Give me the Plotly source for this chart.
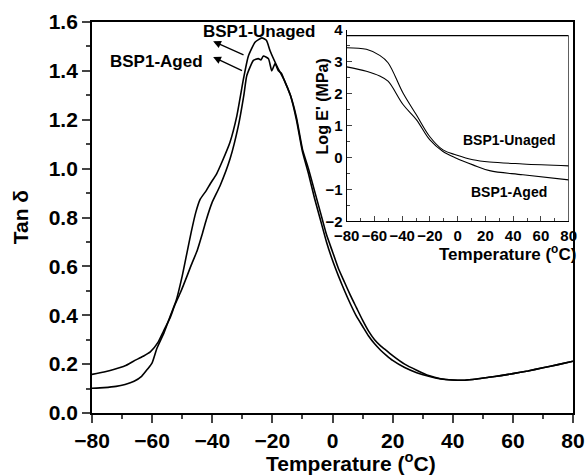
import plotly.graph_objects as go

# ---- main tan(delta) data ----
unaged_T = [-80, -76, -72, -69, -66, -63.5, -61.5, -60, -58.4, -56, -54, -52, -50, -48.5, -47, -45.5, -44,
            -42, -40.7, -38.5, -36.8, -34.1, -31.8, -29.6, -28, -25.7, -23.5, -22, -20.7, -18.5, -16, -14,
            -12, -10, -8, -6, -4, -2, 0, 2, 4, 6, 8, 10, 12, 14, 16, 18, 20, 24, 28, 32, 36, 40, 44, 48,
            52, 56, 60, 65, 70, 75, 80]
unaged_V = [0.101, 0.104, 0.109, 0.117, 0.13, 0.15, 0.18, 0.205, 0.265, 0.33, 0.396, 0.46, 0.56, 0.65, 0.74,
            0.82, 0.875, 0.91, 0.937, 0.98, 1.026, 1.108, 1.217, 1.368, 1.46, 1.518, 1.535, 1.525, 1.48, 1.42,
            1.36, 1.30, 1.21, 1.08, 1.00, 0.91, 0.82, 0.73, 0.66, 0.59, 0.535, 0.48, 0.43, 0.38, 0.335,
            0.30, 0.275, 0.255, 0.235, 0.200, 0.175, 0.153, 0.140, 0.135, 0.134, 0.139, 0.146, 0.153,
            0.161, 0.172, 0.185, 0.198, 0.212]

aged_T = [-80, -76, -72.8, -69, -66.2, -63, -60.6, -58, -56.2, -54, -52.5, -50.5, -48.4, -47, -45, -43.5,
          -42, -40.1, -37.4, -34.1, -31.3, -29.5, -28.5, -26.3, -24.7, -23.8, -23, -21.3, -20.2, -19.1,
          -18, -17, -16.3, -14, -12, -10, -8, -6, -4, -2, 0, 2, 4, 6, 8, 10, 12, 14, 16, 18, 20, 24, 28,
          32, 36, 40, 44, 48, 52, 56, 60, 65, 70, 75, 80]
aged_V = [0.158, 0.168, 0.178, 0.193, 0.212, 0.232, 0.25, 0.29, 0.335, 0.39, 0.44, 0.495, 0.56, 0.605,
          0.665, 0.725, 0.79, 0.86, 0.93, 1.039, 1.176, 1.30, 1.381, 1.443, 1.45, 1.445, 1.461, 1.45, 1.40,
          1.43, 1.40, 1.39, 1.37, 1.30, 1.20, 1.07, 0.98, 0.88, 0.79, 0.70, 0.625, 0.56, 0.50, 0.445,
          0.395, 0.355, 0.315, 0.283, 0.257, 0.235, 0.215, 0.186, 0.165, 0.150, 0.139, 0.135, 0.134,
          0.139, 0.146, 0.153, 0.161, 0.172, 0.185, 0.198, 0.212]

# ---- inset log E' data ----
inset_T = [-80, -65.8, -56.2, -50.2, -39.4, -29.8, -20.2, -10.6, -1, 11, 23, 47, 80]
inset_unaged = [3.44, 3.39, 3.2, 2.97, 2.02, 1.34, 0.66, 0.24, 0.08, -0.07, -0.14, -0.2, -0.26]
inset_aged = [2.84, 2.7, 2.55, 2.39, 1.66, 1.19, 0.56, 0.19, -0.02, -0.23, -0.41, -0.54, -0.70]

main_xticks = [-80, -60, -40, -20, 0, 20, 40, 60, 80]
main_yticks = [0.0, 0.2, 0.4, 0.6, 0.8, 1.0, 1.2, 1.4, 1.6]
inset_yticks = [-2, -1, 0, 1, 2, 3, 4]

FONT = "Liberation Sans"
fig = go.Figure()

fig.add_trace(go.Scatter(x=unaged_T, y=unaged_V, mode="lines",
                         line=dict(color="black", width=1.6, shape="spline", smoothing=0.5),
                         xaxis="x", yaxis="y", showlegend=False))
fig.add_trace(go.Scatter(x=aged_T, y=aged_V, mode="lines",
                         line=dict(color="black", width=1.6, shape="spline", smoothing=0.5),
                         xaxis="x", yaxis="y", showlegend=False))
fig.add_trace(go.Scatter(x=inset_T, y=inset_unaged, mode="lines", line=dict(color="black", width=1.1, shape="spline"),
                         xaxis="x2", yaxis="y2", showlegend=False))
fig.add_trace(go.Scatter(x=inset_T, y=inset_aged, mode="lines", line=dict(color="black", width=1.1, shape="spline"),
                         xaxis="x2", yaxis="y2", showlegend=False))

tickfont_main = dict(family=FONT, size=21, color="black", weight="bold")
tickfont_inset = dict(family=FONT, size=15, color="black", weight="bold")

fig.update_layout(
    width=585, height=475,
    margin=dict(l=92, r=12, t=22, b=62, autoexpand=False),
    paper_bgcolor="white", plot_bgcolor="white",
    xaxis=dict(range=[-80, 80], tickvals=main_xticks, ticks="outside", ticklen=8, tickwidth=1.5,
               showline=True, linewidth=1.8, linecolor="black", mirror=True, showgrid=False, zeroline=False,
               tickfont=tickfont_main, automargin=False, tickangle=0,
               minor=dict(ticks="outside", dtick=10, ticklen=4, tickwidth=1.5, showgrid=False)),
    yaxis=dict(range=[0, 1.6], tickvals=main_yticks, tickformat=".1f", ticks="outside", ticklen=8, tickwidth=1.5,
               showline=True, linewidth=1.8, linecolor="black", mirror=True, showgrid=False, zeroline=False,
               tickfont=tickfont_main, automargin=False,
               minor=dict(ticks="outside", dtick=0.1, ticklen=4, tickwidth=1.5, showgrid=False)),
    xaxis2=dict(domain=[0.5295, 0.991], anchor="y2", range=[-80, 80], tickvals=main_xticks,
                ticks="inside", ticklen=5, tickwidth=1, showline=True, linewidth=1.2, linecolor="black",
                showgrid=False, zeroline=False, tickfont=tickfont_inset, automargin=False, tickangle=0,
                minor=dict(ticks="inside", dtick=10, ticklen=3, tickwidth=1, showgrid=False)),
    yaxis2=dict(domain=[0.49, 0.98], anchor="x2", range=[-2, 4], tickvals=inset_yticks,
                ticks="inside", ticklen=5, tickwidth=1, showline=True, linewidth=1.2, linecolor="black",
                showgrid=False, zeroline=False, tickfont=tickfont_inset, automargin=False,
                minor=dict(ticks="inside", dtick=0.5, ticklen=3, tickwidth=1, showgrid=False)),
)

# inset top and right frame lines
fig.add_shape(type="line", xref="x2", yref="y2", x0=-80, x1=80, y0=3.82, y1=3.82,
              line=dict(color="black", width=1.2))
fig.add_shape(type="line", xref="x2", yref="y2", x0=80, x1=80, y0=-2, y1=3.82,
              line=dict(color="black", width=1.2))

# axis titles
fig.add_annotation(text="Temperature (<sup>o</sup>C)", xref="paper", yref="paper", x=0.539, y=-0.125,
                   showarrow=False, font=dict(family=FONT, size=21, color="black", weight="bold"),
                   xanchor="center", yanchor="middle")
fig.add_annotation(text="Tan δ", xref="paper", yref="paper", x=-0.148, y=0.5, textangle=-90,
                   showarrow=False, font=dict(family=FONT, size=21, color="black", weight="bold"),
                   xanchor="center", yanchor="middle")
fig.add_annotation(text="Temperature (<sup>o</sup>C)", xref="x2", yref="paper", x=36, y=0.41,
                   showarrow=False, font=dict(family=FONT, size=17, color="black", weight="bold"),
                   xanchor="center", yanchor="middle")
fig.add_annotation(text="Log E' (MPa)", xref="paper", yref="y2", x=0.4795, y=1.59, textangle=-90,
                   showarrow=False, font=dict(family=FONT, size=16, color="black", weight="bold"),
                   xanchor="center", yanchor="middle")

# series labels main
fig.add_annotation(text="BSP1-Unaged", x=-24.4, y=1.56, xref="x", yref="y", showarrow=False,
                   font=dict(family=FONT, size=17, color="black", weight="bold"))
fig.add_annotation(text="BSP1-Aged", x=-58.4, y=1.438, xref="x", yref="y", showarrow=False,
                   font=dict(family=FONT, size=17, color="black", weight="bold"))
fig.add_annotation(x=-39.7, y=1.521, ax=-29.1, ay=1.463, xref="x", yref="y", axref="x", ayref="y",
                   showarrow=True, arrowhead=2, arrowsize=1.2, arrowwidth=1.3, arrowcolor="black", text="")
fig.add_annotation(x=-39.7, y=1.457, ax=-29.6, ay=1.398, xref="x", yref="y", axref="x", ayref="y",
                   showarrow=True, arrowhead=2, arrowsize=1.2, arrowwidth=1.3, arrowcolor="black", text="")

# series labels inset
fig.add_annotation(text="BSP1-Unaged", x=37, y=0.56, xref="x2", yref="y2", showarrow=False,
                   font=dict(family=FONT, size=14, color="black", weight="bold"))
fig.add_annotation(text="BSP1-Aged", x=37, y=-1.09, xref="x2", yref="y2", showarrow=False,
                   font=dict(family=FONT, size=14, color="black", weight="bold"))

fig.write_html("out.html")
